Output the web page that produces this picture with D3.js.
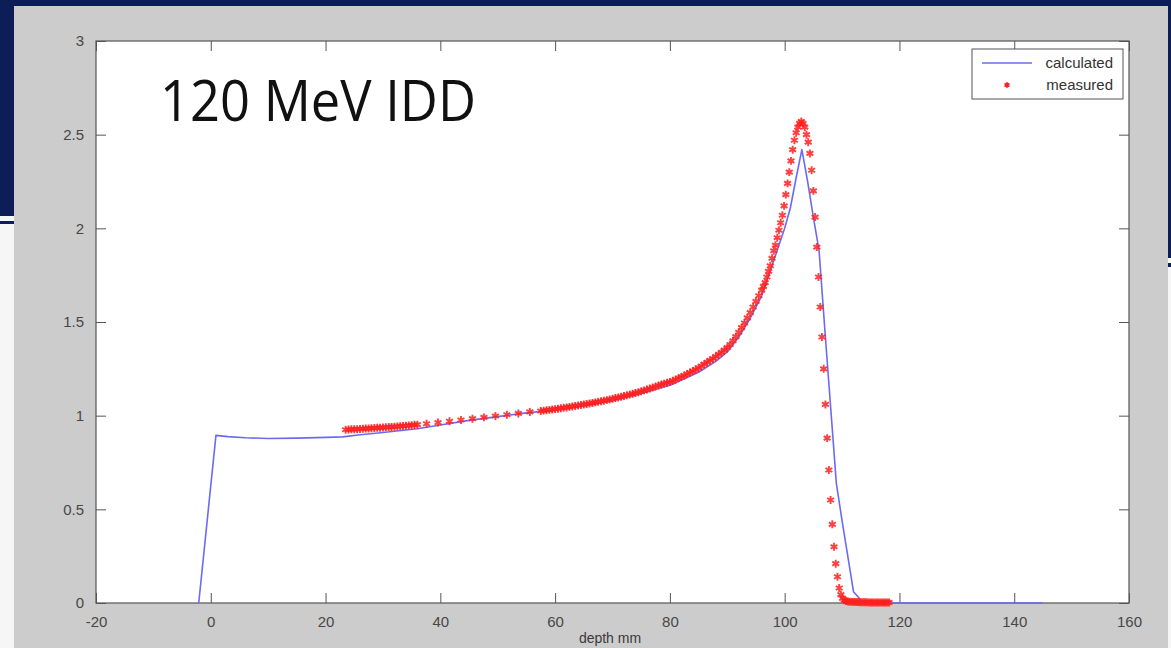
<!DOCTYPE html>
<html>
<head>
<meta charset="utf-8">
<script src="https://cdn.jsdelivr.net/npm/d3@7"></script>
<style>
  html, body { margin: 0; padding: 0; background: #f6f6f6; }
  svg { display: block; }
  .tick-label { font-family: "Liberation Sans", Arial, sans-serif; font-size: 15px; fill: #474747; }
</style>
</head>
<body>
<div id="chart"></div>
<script>
// axis ticks
const xTicks = [-20, 0, 20, 40, 60, 80, 100, 120, 140, 160];
const yTicks = [0, 0.5, 1, 1.5, 2, 2.5, 3];

// calculated IDD (blue line) - [depth mm, dose]
const calculated = [
  [-2.1, 0], [0.9, 0.895], [3, 0.888], [6, 0.882], [10, 0.878], [15, 0.880],
  [20, 0.884], [23, 0.887], [26, 0.898], [30, 0.910], [36, 0.930], [40, 0.950],
  [45, 0.975], [50, 0.995], [55, 1.015], [60, 1.030], [65, 1.052], [70, 1.080],
  [75, 1.118], [80, 1.162], [85, 1.232], [88, 1.290], [90, 1.340], [92, 1.420],
  [94, 1.520], [96, 1.640], [98, 1.820], [100, 2.000], [101, 2.110], [102, 2.270],
  [103, 2.420], [104, 2.250], [105, 2.060], [106, 1.880], [107, 1.460], [108, 1.050],
  [109, 0.640], [110, 0.440], [111, 0.250], [112, 0.060], [113.5, 0.008], [115, 0], [145, 0]
];

// measured IDD (red asterisks) - [depth mm, dose]
const measuredEntrance = [
  [23.5, .925], [24, .926], [24.5, .927], [25, .927], [25.5, .928], [26, .929],
  [26.5, .930], [27, .931], [27.5, .932], [28, .933], [28.5, .934], [29, .935],
  [29.5, .936], [30, .937], [30.5, .938], [31, .939], [31.5, .940], [32, .941],
  [32.5, .942], [33, .944], [33.5, .945], [34, .946], [34.5, .948], [35, .949],
  [35.5, .951], [36, .952]
];
const measuredSparse = [
  [37.6, .957], [39.6, .963], [41.6, .970], [43.6, .977], [45.6, .984],
  [47.6, .991], [49.6, .998], [51.6, 1.005], [53.6, 1.012], [55.6, 1.020]
];
const measuredPlateau = [
  [57.5, 1.025], [58, 1.027], [58.5, 1.029], [59, 1.031], [59.5, 1.033], [60, 1.035],
  [60.5, 1.037], [61, 1.040], [61.5, 1.042], [62, 1.044], [62.5, 1.047], [63, 1.049],
  [63.5, 1.052], [64, 1.054], [64.5, 1.057], [65, 1.060], [65.5, 1.062], [66, 1.065],
  [66.5, 1.068], [67, 1.071], [67.5, 1.074], [68, 1.077], [68.5, 1.080], [69, 1.083],
  [69.5, 1.087], [70, 1.090], [70.5, 1.094], [71, 1.097], [71.5, 1.101], [72, 1.105],
  [72.5, 1.109], [73, 1.113], [73.5, 1.117], [74, 1.121], [74.5, 1.125], [75, 1.130],
  [75.5, 1.135], [76, 1.140], [76.5, 1.145], [77, 1.150], [77.5, 1.156], [78, 1.161],
  [78.5, 1.166], [79, 1.171], [79.5, 1.176], [80, 1.180], [80.5, 1.186], [81, 1.193],
  [81.5, 1.200], [82, 1.207], [82.5, 1.214], [83, 1.222], [83.5, 1.230], [84, 1.238],
  [84.5, 1.246], [85, 1.255], [85.5, 1.265], [86, 1.275], [86.5, 1.285], [87, 1.295],
  [87.5, 1.305], [88, 1.316], [88.5, 1.327], [89, 1.338], [89.5, 1.350], [90, 1.363],
  [90.5, 1.380], [91, 1.400], [91.5, 1.422], [92, 1.445], [92.5, 1.470], [93, 1.495],
  [93.5, 1.522], [94, 1.550], [94.5, 1.580], [95, 1.610], [95.5, 1.640]
];
const measuredPeak = [
  [96.0, 1.67], [96.3, 1.69], [96.6, 1.71], [96.9, 1.74], [97.2, 1.77], [97.5, 1.80],
  [97.8, 1.84], [98.1, 1.88], [98.4, 1.91], [98.7, 1.95], [99.0, 1.99], [99.3, 2.03],
  [99.6, 2.07], [99.9, 2.12], [100.2, 2.18], [100.5, 2.24], [100.8, 2.30], [101.1, 2.36],
  [101.4, 2.42], [101.7, 2.47], [102.0, 2.51], [102.3, 2.54], [102.6, 2.56], [102.9, 2.57],
  [103.2, 2.56], [103.5, 2.54], [103.8, 2.50], [104.1, 2.46], [104.4, 2.40], [104.7, 2.31],
  [105.0, 2.20], [105.3, 2.06], [105.6, 1.90], [105.9, 1.74], [106.2, 1.58], [106.5, 1.42],
  [106.8, 1.25], [107.1, 1.06], [107.4, 0.88], [107.7, 0.71], [108.0, 0.55], [108.3, 0.42],
  [108.6, 0.30], [108.9, 0.21], [109.2, 0.14], [109.5, 0.08], [109.8, 0.045], [110.1, 0.025],
  [110.4, 0.015]
];
const measuredTail = [
  [110.7, 0.010], [111.0, 0.008], [111.3, 0.007], [111.6, 0.006], [111.9, 0.006],
  [112.2, 0.005], [112.5, 0.005], [112.8, 0.005], [113.1, 0.004], [113.4, 0.004],
  [113.7, 0.004], [114.0, 0.004], [114.3, 0.004], [114.6, 0.003], [114.9, 0.003],
  [115.2, 0.003], [115.5, 0.003], [115.8, 0.003], [116.1, 0.003], [116.4, 0.003],
  [116.7, 0.003], [117.0, 0.003], [117.3, 0.003], [117.6, 0.003], [117.9, 0.003],
  [118.2, 0.003]
];
const measured = [].concat(measuredEntrance, measuredSparse, measuredPlateau, measuredPeak, measuredTail);

const W = 1171, H = 648;
const plot = { left: 96, right: 1129, top: 41, bottom: 603 };
const navy = '#0c1d57';

const svg = d3.select('#chart').append('svg')
  .attr('width', W).attr('height', H);

// slide background behind the figure
svg.append('rect').attr('x', 0).attr('y', 0).attr('width', W).attr('height', 6).attr('fill', navy);
svg.append('rect').attr('x', 0).attr('y', 0).attr('width', 14).attr('height', 216).attr('fill', navy);
svg.append('rect').attr('x', 0).attr('y', 221).attr('width', 14).attr('height', 3).attr('fill', navy);
svg.append('rect').attr('x', 1168).attr('y', 0).attr('width', 3).attr('height', 258).attr('fill', navy);
svg.append('rect').attr('x', 1168).attr('y', 263).attr('width', 3).attr('height', 4).attr('fill', navy);

// figure panel
svg.append('rect').attr('x', 14).attr('y', 6).attr('width', 1154).attr('height', H - 6).attr('fill', '#cccccc');
svg.append('rect')
  .attr('x', plot.left).attr('y', plot.top)
  .attr('width', plot.right - plot.left).attr('height', plot.bottom - plot.top)
  .attr('fill', '#ffffff');

const x = d3.scaleLinear().domain([-20, 160]).range([plot.left, plot.right]);
const y = d3.scaleLinear().domain([0, 3]).range([plot.bottom, plot.top]);

// axes: ticks pointing inwards on all four sides, MATLAB style
const tickLen = 10;
const axColor = '#555';
const fmt = d => String(d); // plain hyphen for negatives, like MATLAB
svg.append('g').attr('transform', `translate(0,${plot.bottom})`)
  .call(d3.axisBottom(x).tickValues(xTicks).tickSize(-tickLen).tickPadding(tickLen + 3).tickFormat(fmt))
  .call(g => g.select('.domain').remove());
svg.append('g').attr('transform', `translate(0,${plot.top})`)
  .call(d3.axisTop(x).tickValues(xTicks).tickSize(-tickLen).tickFormat(''))
  .call(g => g.select('.domain').remove());
svg.append('g').attr('transform', `translate(${plot.left},0)`)
  .call(d3.axisLeft(y).tickValues(yTicks).tickSize(-tickLen).tickPadding(tickLen + 2).tickFormat(fmt))
  .call(g => g.select('.domain').remove());
svg.append('g').attr('transform', `translate(${plot.right},0)`)
  .call(d3.axisRight(y).tickValues(yTicks).tickSize(-tickLen).tickFormat(''))
  .call(g => g.select('.domain').remove());

svg.selectAll('.tick line').attr('stroke', axColor);
svg.selectAll('.tick text')
  .attr('class', 'tick-label')
  .attr('font-family', null).attr('font-size', null);

svg.append('rect')
  .attr('x', plot.left).attr('y', plot.top)
  .attr('width', plot.right - plot.left).attr('height', plot.bottom - plot.top)
  .attr('fill', 'none').attr('stroke', axColor).attr('stroke-width', 1.2);

svg.append('text')
  .attr('x', 610).attr('y', 643)
  .attr('text-anchor', 'middle')
  .attr('font-family', '"Liberation Sans", Arial, sans-serif')
  .attr('font-size', 14).attr('fill', '#3a3a3a')
  .text('depth mm');

// data
const line = d3.line().x(d => x(d[0])).y(d => y(d[1]));
svg.append('path')
  .datum(calculated)
  .attr('d', line)
  .attr('fill', 'none')
  .attr('stroke', '#6b6bf2')
  .attr('stroke-width', 1.6)
  .attr('stroke-linejoin', 'round');

const star = d3.symbol().type(d3.symbolAsterisk).size(44);
svg.append('g').selectAll('path')
  .data(measured)
  .join('path')
  .attr('d', star)
  .attr('transform', d => `translate(${x(d[0])},${y(d[1])})`)
  .attr('fill', 'none')
  .attr('stroke', '#ff1e1e')
  .attr('stroke-width', 1.9)
  .attr('stroke-opacity', 0.85);

// title inside the axes
svg.append('text')
  .attr('x', 160).attr('y', 121)
  .attr('font-family', '"Open Sans", "Noto Sans", sans-serif')
  .attr('font-size', 56)
  .attr('fill', '#111')
  .attr('textLength', 316)
  .attr('lengthAdjust', 'spacingAndGlyphs')
  .text('120 MeV IDD');

// legend
const lg = svg.append('g');
lg.append('rect')
  .attr('x', 972).attr('y', 49).attr('width', 151).attr('height', 50)
  .attr('fill', '#fff').attr('stroke', axColor).attr('stroke-width', 1);
lg.append('line')
  .attr('x1', 982).attr('x2', 1032).attr('y1', 63).attr('y2', 63)
  .attr('stroke', '#6b6bf2').attr('stroke-width', 1.6);
lg.append('path')
  .attr('d', d3.symbol().type(d3.symbolAsterisk).size(22))
  .attr('transform', 'translate(1007,85)')
  .attr('fill', 'none').attr('stroke', '#ff1e1e').attr('stroke-width', 1.8);
lg.selectAll('text.lg')
  .data(['calculated', 'measured'])
  .join('text')
  .attr('class', 'lg')
  .attr('x', 1113).attr('y', (d, i) => 68 + i * 22)
  .attr('text-anchor', 'end')
  .attr('font-family', '"Liberation Sans", Arial, sans-serif')
  .attr('font-size', 15).attr('fill', '#333')
  .text(d => d);
</script>
</body>
</html>
